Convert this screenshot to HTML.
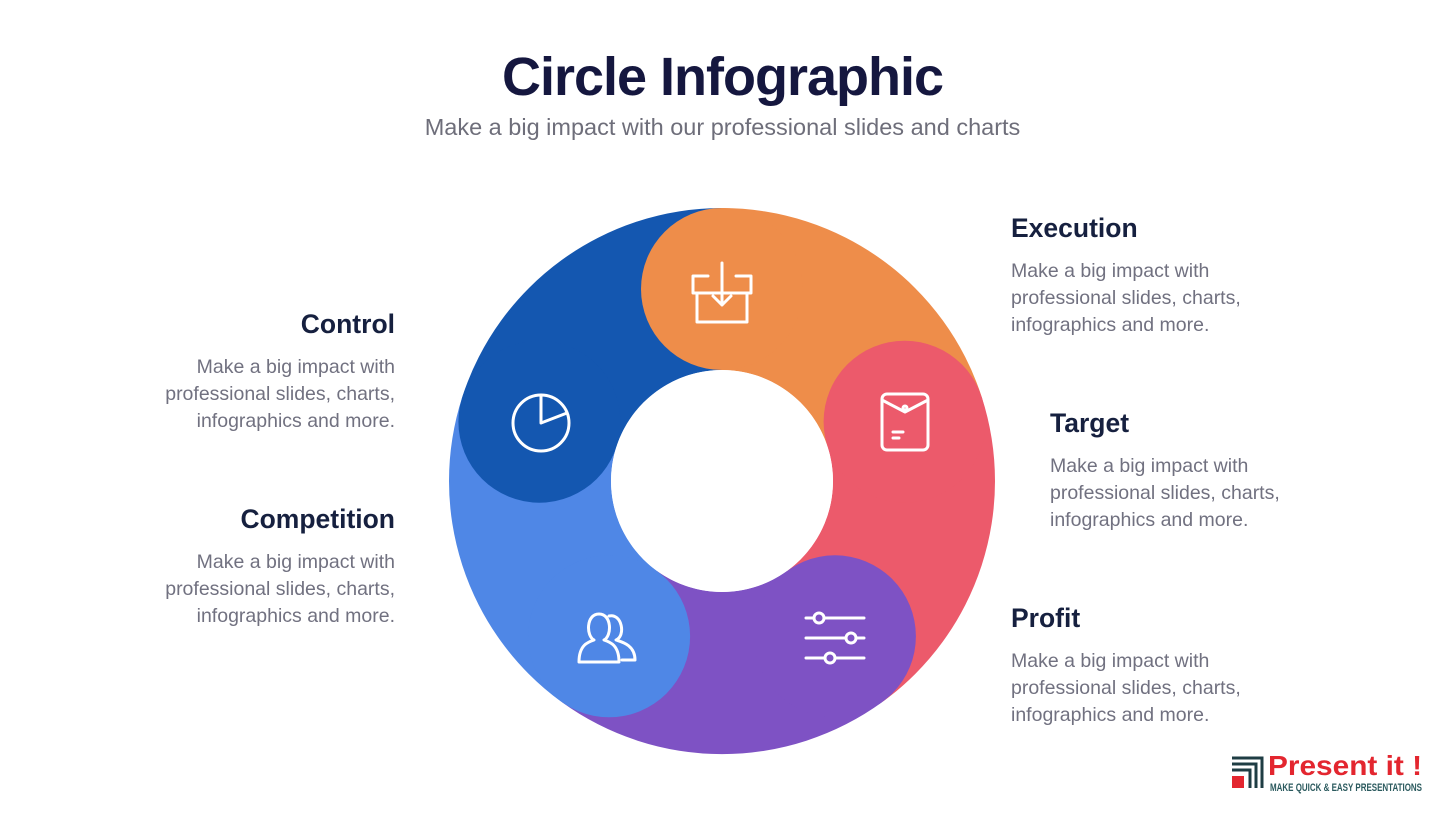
<!DOCTYPE html>
<html><head><meta charset="utf-8"><style>
body{margin:0;width:1445px;height:813px;background:#fff;position:relative;overflow:hidden;font-family:"Liberation Sans",sans-serif}
.t{position:absolute;left:0;width:1445px;text-align:center}
h1{margin:0;font-size:54px;font-weight:bold;color:#15173f;letter-spacing:-1px}
.lab{position:absolute;width:320px}
.lab b{display:block;font-size:26.5px;color:#16203f;margin-bottom:14px}
.lab p{margin:0;font-size:19.5px;line-height:27px;color:#717180}
.r{text-align:right}
</style></head><body>
<div class="t" style="top:46px"><h1>Circle Infographic</h1></div>
<div class="t" style="top:114px;font-size:23.5px;color:#6e6e7a">Make a big impact with our professional slides and charts</div>
<svg width="1445" height="813" style="position:absolute;left:0;top:0">
<path d="M722 208 A273 273 0 0 1 981.6 396.6 L827.6 446.7 A111 111 0 0 0 722 370Z" fill="#ee8d4a"/>
<path d="M981.6 396.6 A273 273 0 0 1 882.5 701.9 L787.2 570.8 A111 111 0 0 0 827.6 446.7Z" fill="#ec5a6b"/>
<path d="M882.5 701.9 A273 273 0 0 1 561.5 701.9 L656.8 570.8 A111 111 0 0 0 787.2 570.8Z" fill="#7e52c4"/>
<path d="M561.5 701.9 A273 273 0 0 1 462.4 396.6 L616.4 446.7 A111 111 0 0 0 656.8 570.8Z" fill="#4f87e6"/>
<path d="M462.4 396.6 A273 273 0 0 1 722 208 L722 370 A111 111 0 0 0 616.4 446.7Z" fill="#1457b0"/>
<circle cx="722" cy="289" r="81" fill="#ee8d4a"/>
<circle cx="904.6" cy="421.7" r="81" fill="#ec5a6b"/>
<circle cx="834.9" cy="636.3" r="81" fill="#7e52c4"/>
<circle cx="609.1" cy="636.3" r="81" fill="#4f87e6"/>
<circle cx="539.4" cy="421.7" r="81" fill="#1457b0"/>
<circle cx="722" cy="481" r="111" fill="#fff"/>
<g fill="none" stroke="#fff" stroke-width="3" stroke-linecap="round" stroke-linejoin="round">
<path d="M708 276 H693 V293 H751 V276 H736 M697 293 V322 H747 V293 M722 263 V305 M713 296 L722 305 L731 296"/>
<rect x="882" y="394" width="46" height="56" rx="5"/><path d="M882 400 L905 412 L928 400 M893 432 H903 M893 438 H899"/><circle cx="905" cy="408" r="2"/>
<path d="M806 618 H864 M806 638 H864 M806 658 H864"/><circle cx="819" cy="618" r="5" fill="#7e52c4"/><circle cx="851" cy="638" r="5" fill="#7e52c4"/><circle cx="830" cy="658" r="5" fill="#7e52c4"/>
<path d="M579 662 C579 645 588 642 594 640 C586 636 586 614 599 614 C612 614 612 636 604 640 C610 642 619 645 619 662 Z M609 616 C622 613 626 636 616 640 C622 642 635 645 635 660 H622"/>
<circle cx="541" cy="423" r="28"/><path d="M541 395 V423 L567 413"/>
</g>
</svg>
<div class="lab" style="left:1011px;top:213px"><b>Execution</b><p>Make a big impact with<br>professional slides, charts,<br>infographics and more.</p></div>
<div class="lab" style="left:1050px;top:408px"><b>Target</b><p>Make a big impact with<br>professional slides, charts,<br>infographics and more.</p></div>
<div class="lab" style="left:1011px;top:603px"><b>Profit</b><p>Make a big impact with<br>professional slides, charts,<br>infographics and more.</p></div>
<div class="lab r" style="left:75px;top:309px"><b>Control</b><p>Make a big impact with<br>professional slides, charts,<br>infographics and more.</p></div>
<div class="lab r" style="left:75px;top:504px"><b>Competition</b><p>Make a big impact with<br>professional slides, charts,<br>infographics and more.</p></div>
<svg width="200" height="50" style="position:absolute;left:1228px;top:750px">
<path d="M4 8 H34 V38 M4 14 H28 V38 M4 20 H22 V38" fill="none" stroke="#1f3d44" stroke-width="3"/>
<rect x="4" y="26" width="12" height="12" fill="#e3262f"/>
<text x="40" y="25" font-family="Liberation Sans" font-weight="bold" font-size="28" fill="#e3262f" textLength="154" lengthAdjust="spacingAndGlyphs">Present it !</text>
<text x="42" y="41" font-family="Liberation Sans" font-weight="bold" font-size="11" fill="#2b5a5e" textLength="152" lengthAdjust="spacingAndGlyphs">MAKE QUICK &amp; EASY PRESENTATIONS</text>
</svg>
</body></html>
